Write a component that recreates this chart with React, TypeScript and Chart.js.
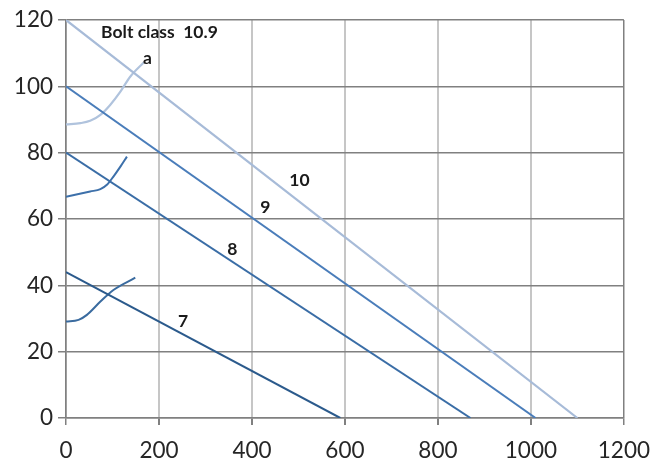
import React, { useEffect, useRef } from "react";
import { Chart, registerables } from "chart.js";

Chart.register(...registerables);

// Straight limit lines
const line10X = [0, 1100];
const line10Y = [120, 0];
const line9X = [0, 1010];
const line9Y = [100, 0];
const line8X = [0, 870];
const line8Y = [80, 0];
const line7X = [0, 590];
const line7Y = [44, 0];

// Curves
const curveAX = [0, 31, 52, 74, 95, 117, 138, 167];
const curveAY = [88.5, 88.9, 89.6, 91.4, 94.4, 98.4, 102.9, 107.2];
const curveBX = [0, 52, 74, 88, 102, 117, 131];
const curveBY = [66.7, 68.3, 69, 70.3, 72.8, 75.8, 78.8];
const curveCX = [0, 27, 45, 74, 102, 149];
const curveCY = [29.1, 29.6, 31.1, 35.1, 38.6, 42.3];

// Annotation labels (data coordinates)
const labelTexts = ["Bolt class  10.9", "a", "10", "9", "8", "7"];
const labelX = [201, 175, 502, 429, 358, 252];
const labelY = [116.4, 108.5, 71.8, 63.6, 50.7, 29];

const xTicks = [0, 200, 400, 600, 800, 1000, 1200];
const yTicks = [0, 20, 40, 60, 80, 100, 120];

const pts = (xs: number[], ys: number[]) => xs.map((x, i) => ({ x, y: ys[i] }));

const labelPlugin = {
  id: "labels",
  afterDatasetsDraw(chart: any) {
    const { ctx, scales } = chart;
    ctx.save();
    ctx.fillStyle = "#1a1a1a";
    ctx.font = "bold 17.5px Lato";
    ctx.textAlign = "center";
    ctx.textBaseline = "middle";
    labelTexts.forEach((t, i) => {
      ctx.fillText(t, scales.x.getPixelForValue(labelX[i]), scales.y.getPixelForValue(labelY[i]));
    });
    ctx.restore();
  },
};

export default function App() {
  const ref = useRef<HTMLCanvasElement>(null);
  useEffect(() => {
    if (!ref.current) return;
    const mk = (xs: number[], ys: number[], color: string, width: number, curved: boolean) => ({
      data: pts(xs, ys),
      borderColor: color,
      backgroundColor: color,
      borderWidth: width,
      showLine: true,
      pointRadius: 0,
      tension: curved ? 0.4 : 0,
      cubicInterpolationMode: curved ? "monotone" : "default",
      fill: false,
    });
    const chart = new Chart(ref.current, {
      type: "scatter",
      data: {
        datasets: [
          mk(line10X, line10Y, "#a7bbd8", 2.2, false),
          mk(line9X, line9Y, "#4a7dba", 2, false),
          mk(line8X, line8Y, "#3a6da6", 2, false),
          mk(line7X, line7Y, "#2b5a8c", 2, false),
          mk(curveAX, curveAY, "#b0c3dd", 2.2, true),
          mk(curveBX, curveBY, "#3d70aa", 2, true),
          mk(curveCX, curveCY, "#3a6b9f", 2, true),
        ] as any,
      },
      options: {
        animation: false,
        responsive: false,
        layout: { padding: { left: 0, top: 20, right: 38, bottom: 0 } },
        plugins: { legend: { display: false }, tooltip: { enabled: false } },
        scales: {
          x: {
            type: "linear",
            min: 0,
            max: 1200,
            afterBuildTicks: (s: any) => {
              s.ticks = xTicks.map((v) => ({ value: v }));
            },
            afterFit: (s: any) => {
              s.height = 41;
            },
            border: { color: "#808080", width: 1.5 },
            grid: {
              color: (c: any) => (c.tick && (c.tick.value === 0 || c.tick.value === 1200) ? "#808080" : "#c6c6c6"),
              lineWidth: (c: any) => (c.tick && (c.tick.value === 0 || c.tick.value === 1200) ? 1.5 : 2),
              tickLength: 7,
              tickColor: "#808080",
              drawTicks: true,
            },
            ticks: {
              color: "#262626",
              font: { family: "Lato", size: 22.5 },
              padding: 12,
              maxRotation: 0,
              autoSkip: false,
              callback: (v: any) => String(v),
            },
          },
          y: {
            type: "linear",
            min: 0,
            max: 120,
            afterBuildTicks: (s: any) => {
              s.ticks = yTicks.map((v) => ({ value: v }));
            },
            afterFit: (s: any) => {
              s.width = 66;
            },
            border: { color: "#808080", width: 1.5 },
            grid: {
              color: "#808080",
              lineWidth: 1.5,
              tickLength: 8,
              tickColor: "#808080",
            },
            ticks: {
              color: "#262626",
              font: { family: "Lato", size: 22.5 },
              padding: 5,
              autoSkip: false,
              callback: (v: any) => String(v),
            },
          },
        },
      },
      plugins: [labelPlugin],
    });
    return () => chart.destroy();
  }, []);
  return (
    <div style={{ position: "fixed", left: 0, top: 0, width: 662, height: 459, background: "#fff" }}>
      <canvas ref={ref} width={662} height={459} style={{ width: 662, height: 459 }} />
    </div>
  );
}
